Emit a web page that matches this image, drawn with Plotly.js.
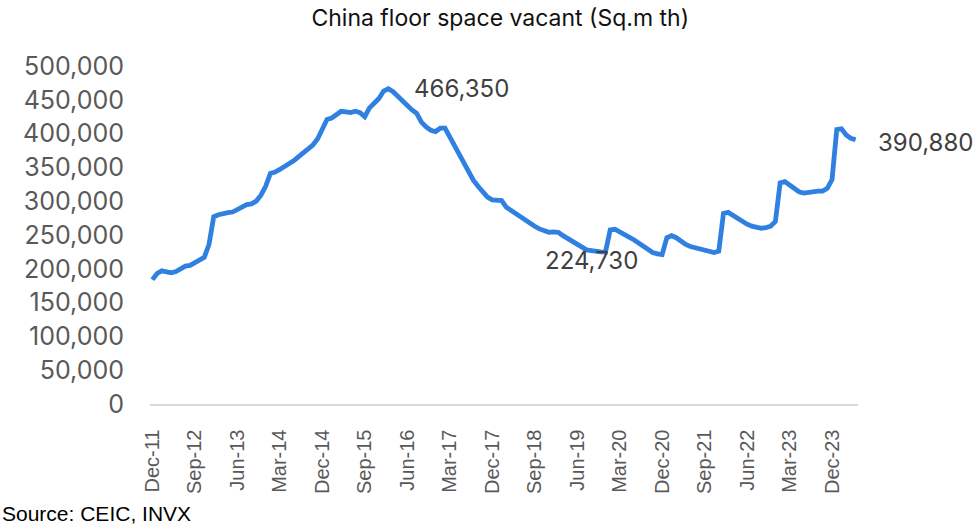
<!DOCTYPE html>
<html>
<head>
<meta charset="utf-8">
<script src="https://cdn.plot.ly/plotly-3.0.1.min.js"></script>
<style>html,body{margin:0;padding:0;background:#fff;}#chart{width:979px;height:527px;}</style>
</head>
<body>
<div id="chart"></div>
<script>
// Series: China residential floor space vacant (Sq.m th), monthly Dec-11 .. May-24
var startMonth = "Dec-11";
var vacantSqmTh = [
  184000,193000,197000,195000,194000,196000,201000,204000,205000,209000,213000,217000,
  236000,277000,280000,282000,283000,284000,288000,293000,295000,296000,300000,309000,
  322000,341000,343000,347000,351000,355000,360000,366000,372000,377000,383000,392000,
  407000,421000,423000,429000,433000,432000,431000,433000,431000,425000,438000,445000,
  452000,463000,466350,462000,455000,447000,440000,435000,430000,417000,410000,405000,
  403000,408000,408000,395000,380000,368000,354000,342000,331000,322000,313000,306000,
  302000,301000,301000,291000,286000,281000,277000,271000,267000,263000,259000,256000,
  254000,254500,254000,249000,245000,240000,235000,231000,228000,227000,225500,225000,
  224730,257500,258500,254000,251000,247000,243000,238000,233000,228000,224000,222000,
  221000,246000,249000,246000,240000,236000,233000,231000,229000,227000,225000,224000,
  226000,282000,283500,279000,274000,270000,266000,263000,261000,260000,261000,263000,
  270000,327000,329000,324000,319000,314000,312000,313000,315000,315000,315000,319000,
  332000,406000,407000,398000,393000,390880
];
var tickLabels = ["Dec-11","Sep-12","Jun-13","Mar-14","Dec-14","Sep-15","Jun-16","Mar-17","Dec-17",
                  "Sep-18","Jun-19","Mar-20","Dec-20","Sep-21","Jun-22","Mar-23","Dec-23"];
var yTickVals = [0,50000,100000,150000,200000,250000,300000,350000,400000,450000,500000];
var labelledMonths = ["Feb-16","Dec-19","May-24"];

// build month category labels starting at startMonth
var monthNames = ["Jan","Feb","Mar","Apr","May","Jun","Jul","Aug","Sep","Oct","Nov","Dec"];
var mi = monthNames.indexOf(startMonth.split("-")[0]);
var yr = parseInt(startMonth.split("-")[1], 10);
var months = [];
for (var i = 0; i < vacantSqmTh.length; i++) {
  months.push(monthNames[mi] + "-" + (yr < 10 ? "0" + yr : "" + yr));
  mi++; if (mi === 12) { mi = 0; yr++; }
}

function fmt(v){ return v.toLocaleString("en-US"); }
function valAt(m){ return vacantSqmTh[months.indexOf(m)]; }

var font = "Inter, 'Open Sans', sans-serif";
var trace = {
  x: months, y: vacantSqmTh, type: "scatter", mode: "lines",
  line: {color: "#2F80E0", width: 4.8},
  hoverinfo: "skip"
};

var annStyle = {font: {family: font, size: 24, color: "#404040"}, showarrow: false, xref: "x", yref: "y"};
var annotations = [
  Object.assign({}, annStyle, {x: labelledMonths[0], y: valAt(labelledMonths[0]), text: fmt(valAt(labelledMonths[0])), xanchor: "left", yanchor: "middle", xshift: 24, yshift: 0}),
  Object.assign({}, annStyle, {x: labelledMonths[1], y: valAt(labelledMonths[1]), text: fmt(valAt(labelledMonths[1])), xanchor: "center", yanchor: "middle", xshift: -14, yshift: -8}),
  Object.assign({}, annStyle, {x: labelledMonths[2], y: valAt(labelledMonths[2]), text: fmt(valAt(labelledMonths[2])), xanchor: "left", yanchor: "middle", xshift: 20, yshift: -3}),
  {xref: "paper", yref: "paper", x: -0.2119, y: -0.3254, xanchor: "left", yanchor: "middle", showarrow: false,
   text: "Source: CEIC, INVX", font: {family: "'Liberation Sans', Arial, sans-serif", size: 21, color: "#000"}}
];

var layout = {
  width: 979, height: 527,
  margin: {l: 150, r: 121, t: 66, b: 123, pad: 0},
  paper_bgcolor: "#fff", plot_bgcolor: "#fff",
  showlegend: false,
  title: {text: "China floor space vacant (Sq.m th)", x: 0.511, xref: "container", xanchor: "center",
          y: 0.966, yref: "container", yanchor: "middle",
          font: {family: font, size: 23, color: "#111"}},
  xaxis: {
    type: "category", range: [-0.5, vacantSqmTh.length - 0.5],
    tickmode: "array", tickvals: tickLabels, ticktext: tickLabels,
    tickangle: -90, ticks: "outside", ticklen: 16, tickcolor: "rgba(0,0,0,0)",
    showgrid: false, zeroline: false, showline: true, linecolor: "#d9d9d9", linewidth: 1.5,
    tickfont: {family: "'Liberation Sans', Arial, sans-serif", size: 20, color: "#595959"}
  },
  yaxis: {
    range: [0, 500000], tickmode: "array", tickvals: yTickVals, tickformat: ",d",
    ticks: "outside", ticklen: 20, tickcolor: "rgba(0,0,0,0)",
    showgrid: false, zeroline: false, showline: false,
    tickfont: {family: font, size: 25, color: "#595959"}
  },
  annotations: annotations
};

Plotly.newPlot("chart", [trace], layout, {displayModeBar: false, staticPlot: true});
</script>
</body>
</html>
